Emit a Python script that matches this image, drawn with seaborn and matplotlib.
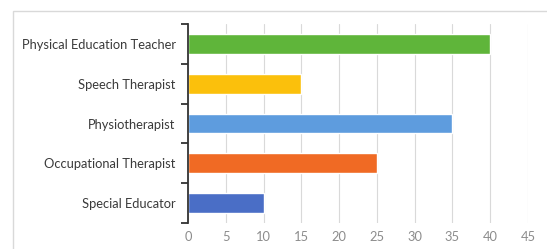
import matplotlib
matplotlib.use("Agg")
import matplotlib.pyplot as plt
import seaborn as sns
import pandas as pd
import numpy as np
from matplotlib.patches import Rectangle

categories = ["Physical Education Teacher", "Speech Therapist", "Physiotherapist",
              "Occupational Therapist", "Special Educator"]
values = [40, 15, 35, 25, 10]
colors = ["#5fb53a", "#fbc00c", "#5e9cde", "#f06a24", "#4a6ec6"]
x_ticks = [0, 5, 10, 15, 20, 25, 30, 35, 40, 45]

sns.set_style("white")
plt.rcParams['font.family'] = ['Lato', 'DejaVu Sans']

W, H = 547, 249
fig = plt.figure(figsize=(W / 100, H / 100), dpi=100)
fig.patch.set_facecolor("white")
ax = fig.add_axes([188 / W, 1 - 223 / H, (528 - 188) / W, (223 - 24) / H])

df = pd.DataFrame({"cat": categories, "val": values})
sns.barplot(data=df, x="val", y="cat", hue="cat", palette=colors, order=categories,
            hue_order=categories, legend=False, width=0.5, ax=ax, saturation=1)

ax.set_xlim(0, 45)
ax.set_ylim(len(categories) - 0.5, -0.5)
ax.set_xticks(x_ticks)
ax.set_xticklabels([str(t) for t in x_ticks], color="#8c8c8c", fontsize=9.3)
ax.tick_params(axis="x", length=0, pad=6)
ax.grid(axis="x", color="#d9d9d9", linewidth=0.8)
ax.set_axisbelow(True)

# category boundary ticks (major) and centered labels (minor)
ax.set_yticks(np.arange(-0.5, len(categories) + 0.5, 1))
ax.set_yticklabels([])
ax.tick_params(axis="y", which="major", left=True, length=5, width=1.3,
               color="#333333", direction="out")
ax.set_yticks(np.arange(len(categories)), minor=True)
ax.set_yticklabels(categories, minor=True, color="#3a3a3a", fontsize=9.3)
ax.tick_params(axis="y", which="minor", left=True, length=0, pad=9)

for s in ["top", "right", "bottom"]:
    ax.spines[s].set_visible(False)
ax.spines["left"].set_color("#333333")
ax.spines["left"].set_linewidth(1.3)
ax.set_xlabel("")
ax.set_ylabel("")

border = Rectangle((13 / W, -0.2), 1.2, 1.2 - 11 / H, transform=fig.transFigure,
                   fill=False, edgecolor="#d9d9d9", linewidth=1.0)
fig.add_artist(border)

fig.savefig("out.png", dpi=100)
